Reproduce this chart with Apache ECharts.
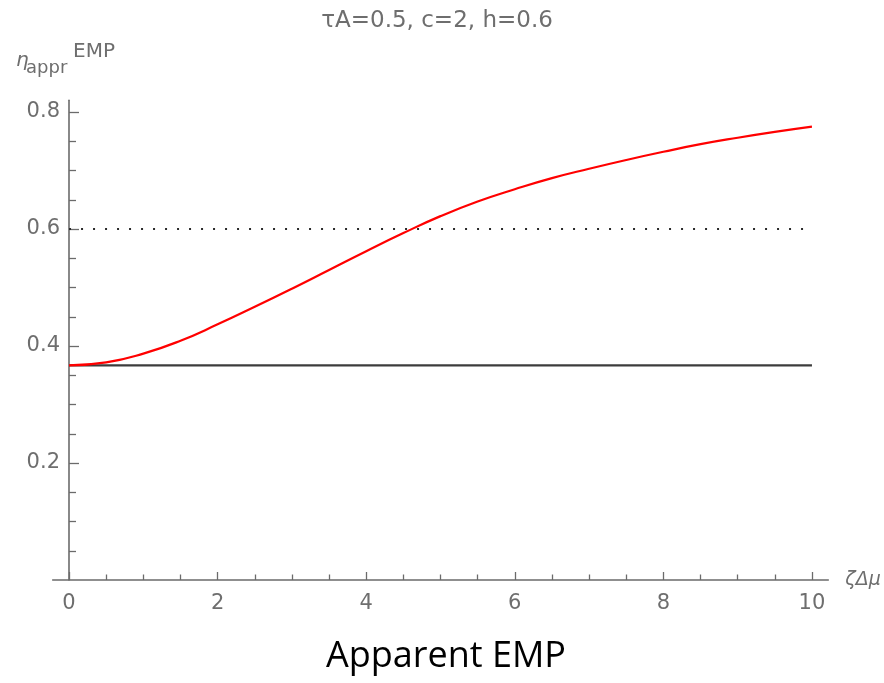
<!DOCTYPE html>
<html>
<head>
<meta charset="utf-8">
<script src="https://cdn.jsdelivr.net/npm/echarts@6/dist/echarts.min.js"></script>
<style>
  html, body { margin: 0; padding: 0; background: #fff; }
  #main { width: 884px; height: 683px; }
</style>
</head>
<body>
<div id="main"></div>
<script>
var dom = document.getElementById("main");
var myChart = echarts.init(dom);

// data
var zetaDmu = [0, 0.5, 1, 1.5, 2, 2.5, 3, 3.5, 4, 4.5, 5, 5.5, 6, 6.5, 7, 7.5, 8, 8.5, 9, 9.5, 10];
var etaAppr = [0.367, 0.372, 0.387, 0.409, 0.437, 0.467, 0.498, 0.530, 0.562, 0.593, 0.622, 0.647, 0.668, 0.687, 0.703, 0.718, 0.732, 0.745, 0.756, 0.766, 0.775];
var baseLevel = 0.367;   // black horizontal line
var hLevel = 0.6;        // dotted line (h)
var lineRange = [0, 10];

var xMajor = [0, 2, 4, 6, 8, 10];
var xMinor = [0.5, 1, 1.5, 2.5, 3, 3.5, 4.5, 5, 5.5, 6.5, 7, 7.5, 8.5, 9, 9.5];
var yMajor = [0.2, 0.4, 0.6, 0.8];
var yMinor = [0.05, 0.1, 0.15, 0.25, 0.3, 0.35, 0.45, 0.5, 0.55, 0.65, 0.7, 0.75];

var curve = [];
for (var i = 0; i < zetaDmu.length; i++) {
    curve.push([zetaDmu[i], etaAppr[i]]);
}

var axisColor = '#6b6b6b';
var labelColor = '#6e6e6e';
var font = 'DejaVu Sans';
var yShift = -16.3; // y axis sits at x = 0, right of the grid edge

option = {
    backgroundColor: '#fff',
    animation: false,
    title: {
        text: 'τA=0.5, c=2, h=0.6',
        left: 437,
        top: 10,
        textAlign: 'center',
        padding: 0,
        textStyle: {
            color: labelColor,
            fontFamily: font,
            fontWeight: 'normal',
            fontSize: 23
        }
    },
    grid: {
        left: 52.7,
        right: 55.7,
        top: 100.3,
        bottom: 103
    },
    xAxis: [{
        type: 'value',
        min: -0.22,
        max: 10.22,
        name: 'ζΔμ',
        nameLocation: 'end',
        nameGap: 17,
        nameTextStyle: {
            color: labelColor,
            fontFamily: font,
            fontStyle: 'italic',
            fontSize: 19
        },
        splitLine: {show: false},
        axisLine: {
            onZero: false,
            lineStyle: {color: axisColor, width: 1.6}
        },
        axisTick: {
            inside: true,
            length: 8,
            customValues: xMajor,
            lineStyle: {color: axisColor, width: 1.3}
        },
        axisLabel: {
            customValues: xMajor,
            margin: 13,
            color: labelColor,
            fontFamily: font,
            fontSize: 21
        }
    }, {
        type: 'value',
        min: -0.22,
        max: 10.22,
        position: 'bottom',
        splitLine: {show: false},
        axisLine: {show: false, onZero: false},
        axisLabel: {show: false},
        axisTick: {
            inside: true,
            length: 5.5,
            customValues: xMinor,
            lineStyle: {color: axisColor, width: 1.3}
        }
    }],
    yAxis: [{
        type: 'value',
        min: 0,
        max: 0.82,
        offset: yShift,
        splitLine: {show: false},
        axisLine: {
            onZero: false,
            lineStyle: {color: axisColor, width: 1.6}
        },
        axisTick: {
            inside: true,
            length: 10,
            customValues: yMajor,
            lineStyle: {color: axisColor, width: 1.3}
        },
        axisLabel: {
            customValues: yMajor,
            margin: 9,
            padding: [5, 0, 0, 0],
            color: labelColor,
            fontFamily: font,
            fontSize: 21
        }
    }, {
        type: 'value',
        min: 0,
        max: 0.82,
        position: 'left',
        offset: yShift,
        splitLine: {show: false},
        axisLine: {show: false, onZero: false},
        axisLabel: {show: false},
        axisTick: {
            inside: true,
            length: 7,
            customValues: yMinor,
            lineStyle: {color: axisColor, width: 1.3}
        }
    }],
    graphic: [{
        type: 'text',
        left: 16, top: 51,
        style: {text: 'η', fill: labelColor, font: 'italic 20px "DejaVu Sans"'}
    }, {
        type: 'text',
        left: 26, top: 59,
        style: {text: 'appr', fill: labelColor, font: '18px "DejaVu Sans"'}
    }, {
        type: 'text',
        left: 73, top: 42,
        style: {text: 'EMP', fill: labelColor, font: '20px "DejaVu Sans"'}
    }, {
        type: 'text',
        x: 446, y: 657,
        style: {
            text: 'Apparent EMP',
            fill: '#000',
            font: '36px "Open Sans"',
            textAlign: 'center',
            textVerticalAlign: 'middle'
        }
    }],
    series: [{
        name: 'h',
        type: 'line',
        showSymbol: false,
        data: [[lineRange[0], hLevel], [lineRange[1], hLevel]],
        lineStyle: {color: '#2a2a2a', width: 2, type: [2, 10]},
        z: 2
    }, {
        name: 'base',
        type: 'line',
        showSymbol: false,
        data: [[lineRange[0], baseLevel], [lineRange[1], baseLevel]],
        lineStyle: {color: '#3c3c3c', width: 2.2},
        z: 3
    }, {
        name: 'eta',
        type: 'line',
        smooth: true,
        showSymbol: false,
        data: curve,
        lineStyle: {color: '#ff0000', width: 2.2},
        z: 4
    }]
};

if (option && typeof option === "object") {
    myChart.setOption(option, true);
}
</script>
</body>
</html>
